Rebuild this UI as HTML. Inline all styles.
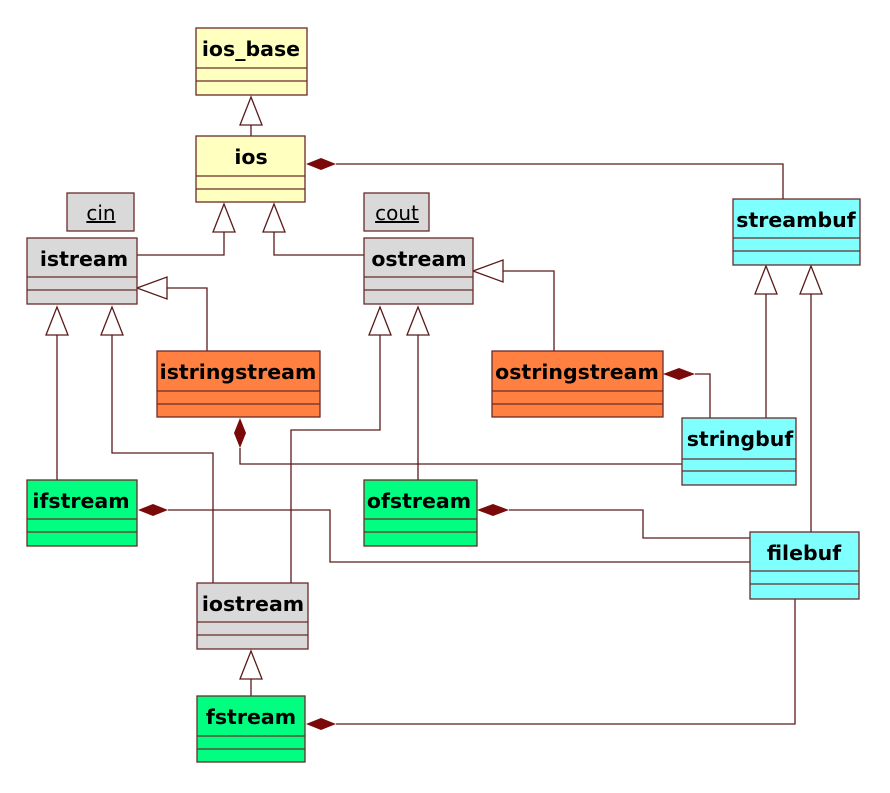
<!DOCTYPE html>
<html><head><meta charset="utf-8"><style>
html,body{margin:0;padding:0;background:#fff;}
svg{display:block;}
text{font-family:"DejaVu Sans","Liberation Sans",sans-serif;font-weight:bold;font-size:20.5px;fill:#000;}
.t{font-weight:normal;font-size:20px;text-decoration:underline;}
</style></head><body>
<svg width="890" height="793" viewBox="0 0 890 793" xmlns="http://www.w3.org/2000/svg">
<g fill="none" stroke="#5a1a1a" stroke-width="1.3">
<path d="M251 136V125"/>
<path d="M336 164H783V199"/>
<path d="M137 255H224V232"/>
<path d="M364 255H274V232"/>
<path d="M207 351V288H167"/>
<path d="M554 351V271H503"/>
<path d="M766 418V294"/>
<path d="M811 532V294"/>
<path d="M695 374H710V418"/>
<path d="M240 448V464H682"/>
<path d="M57 480V335"/>
<path d="M213 583V453H112V335"/>
<path d="M291 583V430H380V335"/>
<path d="M418 480V335"/>
<path d="M168 510H330V562H750"/>
<path d="M509 510H643V538H750"/>
<path d="M336 724H795V599"/>
<path d="M251 696V679"/>
</g>
<g fill="#fff" stroke="#5a1a1a" stroke-width="1.3">
<path d="M251 97L240 125H262Z"/>
<path d="M224 204L213 232H235Z"/>
<path d="M274 204L263 232H285Z"/>
<path d="M137 288L167 277V299Z"/>
<path d="M473 271L503 260V282Z"/>
<path d="M766 266L755 294H777Z"/>
<path d="M811 266L800 294H822Z"/>
<path d="M57 307L46 335H68Z"/>
<path d="M112 307L101 335H123Z"/>
<path d="M380 307L369 335H391Z"/>
<path d="M418 307L407 335H429Z"/>
<path d="M251 651L240 679H262Z"/>
</g>
<g fill="#7a0a0a" stroke="none">
<path d="M306 164L321 158L336 164L321 170Z"/>
<path d="M663 374L679 368L695 374L679 380Z"/>
<path d="M240 418L246 433L240 448L234 433Z"/>
<path d="M138 510L153 504L168 510L153 516Z"/>
<path d="M477 510L493 504L509 510L493 516Z"/>
<path d="M306 724L321 718L336 724L321 730Z"/>
</g>
<g stroke="#6a2a2a" stroke-width="1.3">
<rect x="196" y="28" width="111" height="67" fill="#ffffc0"/>
<path d="M196 68H307M196 81H307"/>
<rect x="196" y="136" width="109" height="66" fill="#ffffc0"/>
<path d="M196 176H305M196 189H305"/>
<rect x="67" y="193" width="67" height="38" fill="#d9d9d9"/>
<rect x="364" y="193" width="65" height="38" fill="#d9d9d9"/>
<rect x="27" y="238" width="110" height="66" fill="#d9d9d9"/>
<path d="M27 277H137M27 290H137"/>
<rect x="364" y="238" width="109" height="66" fill="#d9d9d9"/>
<path d="M364 277H473M364 290H473"/>
<rect x="733" y="199" width="127" height="66" fill="#80ffff"/>
<path d="M733 238H860M733 251H860"/>
<rect x="157" y="351" width="163" height="66" fill="#ff8040"/>
<path d="M157 391H320M157 404H320"/>
<rect x="492" y="351" width="171" height="66" fill="#ff8040"/>
<path d="M492 391H663M492 404H663"/>
<rect x="682" y="418" width="114" height="67" fill="#80ffff"/>
<path d="M682 459H796M682 471H796"/>
<rect x="27" y="480" width="110" height="66" fill="#00ff80"/>
<path d="M27 519H137M27 532H137"/>
<rect x="364" y="480" width="113" height="66" fill="#00ff80"/>
<path d="M364 519H477M364 532H477"/>
<rect x="750" y="532" width="109" height="67" fill="#80ffff"/>
<path d="M750 571H859M750 584H859"/>
<rect x="197" y="583" width="111" height="66" fill="#d9d9d9"/>
<path d="M197 622H308M197 635H308"/>
<rect x="197" y="696" width="108" height="66" fill="#00ff80"/>
<path d="M197 736H305M197 749H305"/>
</g>
<text x="251" y="56" text-anchor="middle">ios_base</text>
<text x="251" y="164" text-anchor="middle">ios</text>
<text class="t" x="101" y="220" text-anchor="middle">cin</text>
<text class="t" x="397" y="220" text-anchor="middle">cout</text>
<text x="84" y="266" text-anchor="middle">istream</text>
<text x="419" y="266" text-anchor="middle">ostream</text>
<text x="796" y="227" text-anchor="middle">streambuf</text>
<text x="238" y="379" text-anchor="middle">istringstream</text>
<text x="577" y="379" text-anchor="middle">ostringstream</text>
<text x="740" y="446" text-anchor="middle">stringbuf</text>
<text x="81" y="508" text-anchor="middle">ifstream</text>
<text x="419" y="508" text-anchor="middle">ofstream</text>
<text x="804" y="560" text-anchor="middle">filebuf</text>
<text x="253" y="611" text-anchor="middle">iostream</text>
<text x="251" y="724" text-anchor="middle">fstream</text>
</svg>
</body></html>
